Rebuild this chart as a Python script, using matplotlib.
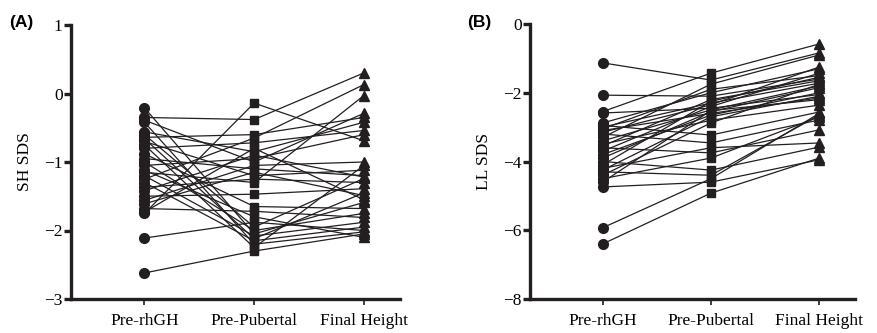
import matplotlib
matplotlib.use("Agg")
import matplotlib.pyplot as plt

categories = ["Pre-rhGH", "Pre-Pubertal", "Final Height"]

# Panel A: SH SDS (one entry per subject)
sh_pre = [-0.21, -0.35, -0.39, -0.42, -0.56, -0.60, -0.64, -0.66, -0.70, -0.75,
          -0.80, -0.88, -0.95, -1.00, -1.05, -1.12, -1.15, -1.20, -1.25, -1.30,
          -1.37, -1.42, -1.50, -1.56, -1.61, -1.68, -1.73, -1.75, -2.11, -2.62]
sh_pub = [-2.05, -0.38, -1.00, -2.20, -0.85, -1.95, -0.60, -2.12, -1.20, -2.25,
          -0.72, -1.65, -1.10, -2.00, -0.95, -1.80, -1.30, -2.08, -0.65, -2.15,
          -1.25, -0.90, -1.47, -1.05, -1.15, -1.72, -0.80, -0.14, -1.88, -2.30]
sh_fin = [-1.59, 0.30, -0.29, -2.02, -0.42, -1.24, -0.35, -1.45, -1.12, -1.05,
          -0.54, -1.68, -1.20, -1.75, -0.60, -2.10, -0.03, -1.88, 0.13, -1.95,
          -1.30, -1.22, -1.39, -1.00, -1.49, -1.81, -1.55, -0.69, -2.00, -2.05]

# Panel B: LL SDS (one entry per subject)
ll_pre = [-1.13, -2.07, -2.55, -2.59, -2.88, -2.95, -3.00, -3.05, -3.10, -3.15,
          -3.20, -3.30, -3.40, -3.50, -3.55, -3.60, -3.70, -3.80, -3.90, -4.00,
          -4.10, -4.20, -4.25, -4.30, -4.40, -4.50, -4.60, -4.74, -5.93, -6.40]
ll_pub = [-1.63, -2.10, -1.43, -2.45, -2.00, -3.23, -2.30, -1.90, -2.60, -2.35,
          -3.46, -1.75, -2.50, -2.80, -2.20, -3.75, -2.40, -2.65, -2.55, -4.25,
          -2.25, -3.60, -2.70, -4.40, -2.88, -3.90, -2.52, -4.60, -4.50, -4.92]
ll_fin = [-0.84, -1.60, -0.58, -2.05, -1.30, -2.56, -1.72, -1.50, -2.15, -1.25,
          -2.79, -0.90, -1.80, -2.36, -1.65, -3.08, -1.43, -2.00, -1.85, -3.58,
          -1.55, -3.46, -2.10, -2.65, -1.75, -2.70, -2.20, -3.95, -2.60, -3.90]

col = "#231f20"
serif = ["Liberation Serif", "DejaVu Serif"]
fs = 12.5

fig = plt.figure(figsize=(8.78, 3.33), dpi=100)
axA = fig.add_axes([71/878, 1-299/333, 329/878, 274/333])
axB = fig.add_axes([530/878, 1-299/333, 325/878, 275/333])

def panel(ax, pre, pub, fin, ylim, yticks, ylabel):
    x = range(3)
    for a, b, c in zip(pre, pub, fin):
        ax.plot(x, [a, b, c], color=col, lw=0.9, zorder=2)
    ax.plot([0]*len(pre), pre, "o", color=col, ms=7, zorder=3, ls="none")
    ax.plot([1]*len(pub), pub, "s", color=col, ms=6.3, zorder=3, ls="none")
    ax.plot([2]*len(fin), fin, "^", color=col, ms=7, zorder=3, ls="none")
    ax.set_xlim(-0.67, 2.33)
    ax.set_ylim(*ylim)
    ax.set_yticks(yticks)
    ax.set_yticklabels([("\u2212%d" % -t) if t < 0 else "%d" % t for t in yticks],
                       family=serif, fontsize=fs)
    ax.set_xticks(list(x))
    ax.set_xticklabels(categories, family=serif, fontsize=fs)
    for s in ["top", "right"]:
        ax.spines[s].set_visible(False)
    for s in ["left", "bottom"]:
        ax.spines[s].set_linewidth(2.4)
        ax.spines[s].set_color(col)
    ax.tick_params(axis="y", width=2.4, length=5, color=col, pad=1)
    ax.tick_params(axis="x", width=1.2, length=4, color=col, pad=6)
    ax.set_ylabel(ylabel, family=serif, fontsize=fs, labelpad=8)

panel(axA, sh_pre, sh_pub, sh_fin, (-3, 1), [1, 0, -1, -2, -3], "SH SDS")
panel(axB, ll_pre, ll_pub, ll_fin, (-8, 0), [0, -2, -4, -6, -8], "LL SDS")

fig.text(9/878, 1-22/333, "(A)", family=["Liberation Sans", "DejaVu Sans"],
         fontweight="bold", fontsize=12.5, va="center", ha="left")
fig.text(467/878, 1-22/333, "(B)", family=["Liberation Sans", "DejaVu Sans"],
         fontweight="bold", fontsize=12.5, va="center", ha="left")

fig.savefig("out.png", dpi=100)
